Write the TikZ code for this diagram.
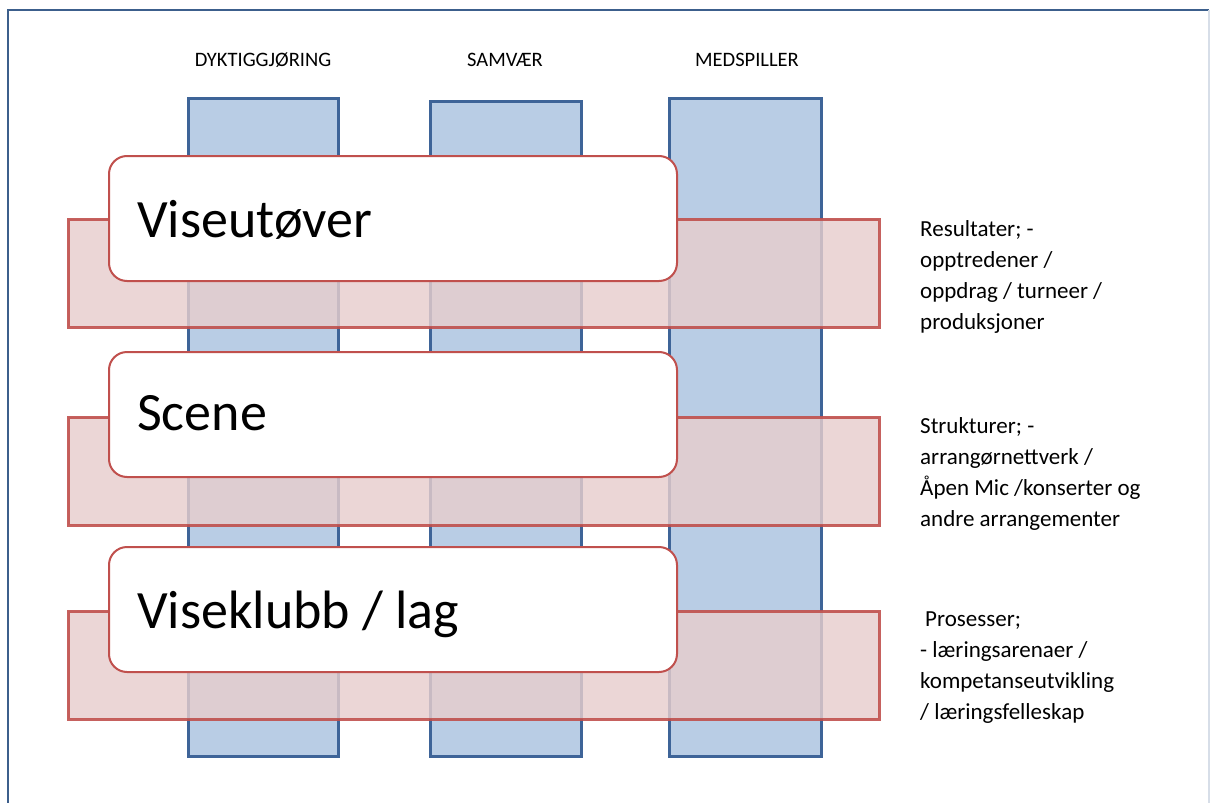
\documentclass[tikz,border=0pt]{standalone}
\usepackage{fontspec}
\setmainfont{Carlito}
\definecolor{colfill}{RGB}{185,205,229}
\definecolor{colline}{RGB}{62,100,152}
\definecolor{bandfill}{RGB}{231,205,205}
\definecolor{bandline}{RGB}{192,80,77}
\definecolor{framec}{RGB}{60,95,140}
\definecolor{framelight}{RGB}{215,222,232}
\begin{document}
\begin{tikzpicture}[x=1pt,y=-1pt]
\tikzset{
 colbox/.style={draw=colline,line width=2.5pt,fill=colfill,anchor=north west,inner sep=0pt,minimum width=150pt,minimum height=658pt},
 band/.style={draw=bandline,draw opacity=0.9,line width=2.5pt,fill=bandfill,fill opacity=0.82,anchor=north west,inner sep=0pt,minimum width=811pt,minimum height=108pt},
 levelbox/.style={draw=bandline,line width=2pt,fill=white,rounded corners=18pt,anchor=north west,inner sep=0pt,minimum width=568pt,minimum height=125pt},
 leveltext/.style={font=\fontsize{54}{60}\selectfont,anchor=base west,inner sep=0pt},
 headtext/.style={font=\fontsize{20.5}{22}\selectfont,anchor=center,inner sep=0pt},
 sidetext/.style={font=\fontsize{23}{31}\selectfont,align=left,anchor=north west,inner sep=0pt}
}
\useasboundingbox (0,0) rectangle (1211,803);
% frame
\coordinate (fbl) at (8,803);
\coordinate (ftl) at (8,10);
\coordinate (ftr) at (1209,10);
\coordinate (fbr) at (1209,803);
\draw[framec,line width=2pt] (fbl) -- (ftl) -- (ftr);
\draw[framelight,line width=2pt] (ftr) -- (fbr);
% column headings
\node[headtext] (h1) at (263,60) {DYKTIGGJØRING};
\node[headtext] (h2) at (505,60) {SAMVÆR};
\node[headtext] (h3) at (747,60) {MEDSPILLER};
% columns
\node[colbox] (c1) at (187,97) {};
\node[colbox,minimum width=151pt,minimum height=655pt,line width=3pt] (c2) at (429,100) {};
\node[colbox,minimum width=152pt] (c3) at (668,97) {};
% bands
\node[band] (b1) at (67,218) {};
\node[band] (b2) at (67,416) {};
\node[band] (b3) at (67,610) {};
% level boxes
\node[levelbox] (l1) at (108,155) {};
\node[levelbox] (l2) at (108,351) {};
\node[levelbox] (l3) at (108,546) {};
\node[leveltext] (t1) at (137,237) {Viseutøver};
\node[leveltext] (t2) at (137,430) {Scene};
\node[leveltext] (t3) at (137,628) {Viseklubb / lag};
% side texts
\node[sidetext] (s1) at (920,220) {Resultater; -\\opptredener /\\oppdrag / turneer /\\produksjoner};
\node[sidetext] (s2) at (920,417) {Strukturer; -\\arrangørnettverk /\\Åpen Mic /konserter og\\andre arrangementer};
\node[sidetext] (s3) at (920,612) {\hspace*{5pt}Prosesser;\\- læringsarenaer /\\kompetanseutvikling\\/ læringsfelleskap};
\end{tikzpicture}
\end{document}
